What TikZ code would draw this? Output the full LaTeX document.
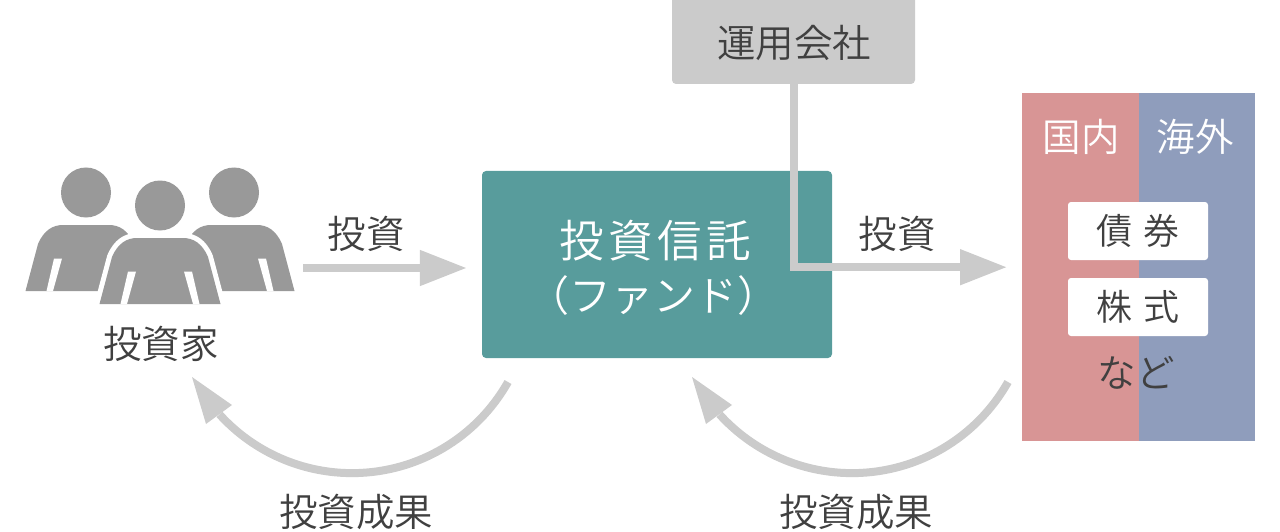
\documentclass[tikz,border=0pt]{standalone}
\usepackage{fontspec}
\setmainfont{Noto Sans CJK JP DemiLight}
\usetikzlibrary{arrows.meta,calc}
\definecolor{ink}{HTML}{404040}
\definecolor{arrowgray}{HTML}{CBCBCB}
\definecolor{persongray}{HTML}{999999}
\definecolor{teal1}{HTML}{589C9C}
\definecolor{pink1}{HTML}{D89595}
\definecolor{blue1}{HTML}{8F9DBC}
\newcommand{\fs}[1]{\fontsize{#1}{#1}\selectfont}
\tikzset{
  x=1pt,y=-1pt,
  lbl/.style={inner sep=0pt,text=ink,font=\fs{38.5},anchor=center},
  panel/.style={inner sep=0pt,anchor=north west,fill=#1},
  wbox/.style={inner sep=0pt,fill=white,rounded corners=3pt,minimum width=140pt,minimum height=58pt,text=ink,font=\fs{36},anchor=center},
  flow/.style={draw=arrowgray,line width=8pt},
  flowtip/.style={flow,-{Triangle[length=47pt,width=34pt,fill=arrowgray]},shorten >=15pt},
  headfill/.style={fill=arrowgray,draw=none},
  person/.style={fill=persongray,draw=none},
}
\newcommand{\personat}[3]{%
  \begin{scope}[shift={(#1,#2)}]
    \ifnum#3=1
      \path[draw=white,line width=10pt,line join=round] (-60.5,0) -- (-48,-47) .. controls (-42,-61) and (-33,-66) .. (-23,-66) -- (23,-66) .. controls (33,-66) and (42,-61) .. (48,-47) -- (60.5,0);
    \fi
    \fill[person] (0,-98.5) circle[radius=25pt];
    \fill[person] (-60.5,0) -- (-48,-47) .. controls (-42,-61) and (-33,-66) .. (-23,-66) -- (23,-66) .. controls (33,-66) and (42,-61) .. (48,-47) -- (60.5,0) -- cycle;
    \fill[white] (-39.5,0) -- (-32,-32.5) -- (-24,-32.5) -- (-33,0) -- cycle;
    \fill[white] (39.5,0) -- (32,-32.5) -- (24,-32.5) -- (33,0) -- cycle;
  \end{scope}}
\begin{document}
\begin{tikzpicture}
\useasboundingbox (0,0) rectangle (1280,532);
% people
\personat{86}{291}{0}
\personat{234}{291}{0}
\personat{160}{304}{1}
\node[lbl] (investor) at (161,344) {投資家};
% panels
\node[panel=pink1,minimum width=117pt,minimum height=348pt] (domestic) at (1022,93) {};
\node[panel=blue1,minimum width=116pt,minimum height=348pt] (foreign) at (1139,93) {};
\node[inner sep=0pt,text=white,font=\fs{38.5}] (domlabel) at (1081,137) {国内};
\node[inner sep=0pt,text=white,font=\fs{38.5}] (forlabel) at (1195,137) {海外};
\node[wbox] (bond) at (1138,231) {債\,\,券};
\node[wbox] (stock) at (1138,307) {株\,\,式};
\node[lbl] (etc) at (1136,373) {など};
% fund
\node[fill=teal1,rounded corners=4pt,minimum width=350pt,minimum height=187pt,inner sep=0pt] (fund) at (657,264.5) {};
\node[inner sep=0pt,text=white,font=\fs{44.5}\addfontfeatures{LetterSpace=10}] (fundA) at (655,241) {投資信託};
\node[inner sep=0pt,text=white,font=\fs{42}] (fundB) at (653,296) {（ファンド）};
% manager
\node[fill=arrowgray,rounded corners=4pt,minimum width=243pt,minimum height=88pt,inner sep=0pt] (manager) at (793.5,40) {};
\node[lbl] (managerlabel) at (794,43) {運用会社};
% connectors
\coordinate (invout) at (303,268);
\draw[flowtip] (invout) -- (invout -| fund.west);
\draw[flowtip,line join=miter] (manager.south) |- (domestic.west);
\node[lbl] (lab1) at (366,234) {投資};
\node[lbl] (lab2) at (897,234) {投資};
% curved returns
\coordinate (ra) at (508,382);
\coordinate (rb) at (1008,382);
\draw[flow] (ra) arc[start angle=-29.4,end angle=-137.8,radius=179pt] coordinate (raend);
\draw[flow] (rb) arc[start angle=-29.4,end angle=-137.8,radius=179pt] coordinate (rbend);
\fill[headfill] (192,377) -- (232,405) -- (206,424) -- cycle;
\fill[headfill] (692,377) -- (732,405) -- (706,424) -- cycle;
\node[lbl] (res1) at (356,512) {投資成果};
\node[lbl] (res2) at (856,512) {投資成果};
\end{tikzpicture}
\end{document}
